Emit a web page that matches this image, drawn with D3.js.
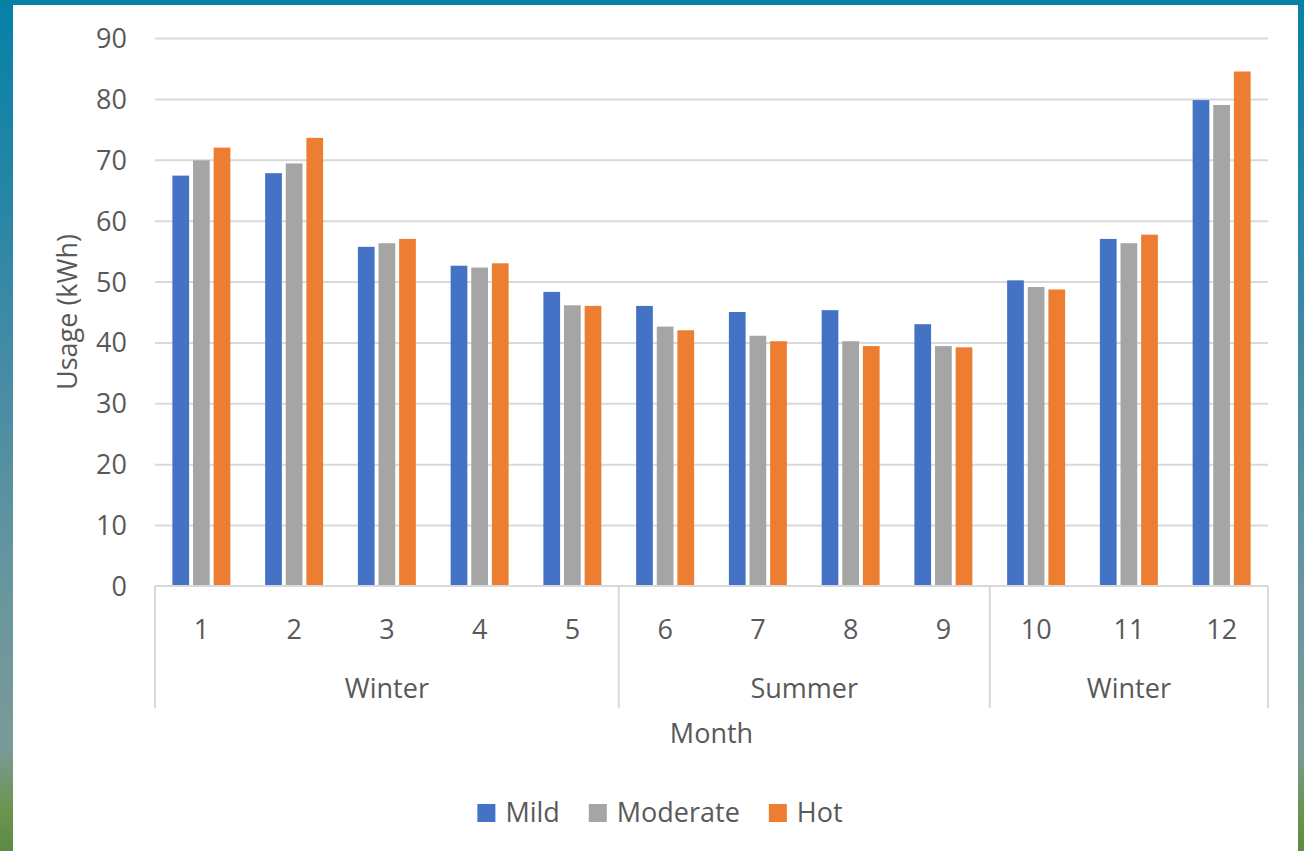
<!DOCTYPE html>
<html>
<head>
<meta charset="utf-8">
<script src="https://cdn.jsdelivr.net/npm/d3@7/dist/d3.min.js"></script>
<style>
  html, body { margin: 0; padding: 0; }
  body {
    width: 1304px; height: 851px; overflow: hidden;
    background: linear-gradient(180deg, #0581a7 0%, #2a86a6 25%, #4f8ea3 50%, #6a969e 70%, #7a9a98 88%, #6c9450 95%, #5d8a46 100%);
  }
  svg { display: block; font-family: "Open Sans", "Noto Sans", sans-serif; }
</style>
</head>
<body>
<svg id="chart" width="1304" height="851"></svg>
<script>
// Monthly usage by climate zone
const months = ["1", "2", "3", "4", "5", "6", "7", "8", "9", "10", "11", "12"];
const seasonLabels = ["Winter", "Summer", "Winter"];
const seasonSpans = [5, 4, 3];
const seriesNames = ["Mild", "Moderate", "Hot"];
const mild     = [67.4, 67.8, 55.7, 52.6, 48.3, 46.0, 45.0, 45.3, 43.0, 50.2, 57.0, 79.8];
const moderate = [69.9, 69.4, 56.3, 52.3, 46.1, 42.6, 41.1, 40.2, 39.4, 49.1, 56.3, 79.0];
const hot      = [72.0, 73.6, 57.0, 53.0, 46.0, 42.0, 40.2, 39.4, 39.2, 48.7, 57.7, 84.5];
const yTicks = [0, 10, 20, 30, 40, 50, 60, 70, 80, 90];
const colors = ["#4472c4", "#a5a5a5", "#ed7d31"];

const seriesValues = [mild, moderate, hot];
const textColor = "#595959";
const lineColor = "#d9d9d9";
const fontSize = 27;

const svg = d3.select("#chart");

// white chart panel
svg.append("rect").attr("x", 13).attr("y", 5).attr("width", 1285).attr("height", 846).attr("fill", "#ffffff");

const plot = { left: 155, right: 1268, top: 38, bottom: 586 };

const y = d3.scaleLinear().domain([0, 90]).range([plot.bottom, plot.top]);
const x0 = d3.scaleBand().domain(months).range([plot.left, plot.right])
  .paddingInner(0.375).paddingOuter(0.1875);
const x1 = d3.scaleBand().domain(seriesNames).range([0, x0.bandwidth()])
  .paddingInner(0.19).paddingOuter(0);

// gridlines and value labels
const yAxis = d3.axisLeft(y).tickValues(yTicks).tickSize(-(plot.right - plot.left)).tickPadding(28);
const gy = svg.append("g").attr("transform", `translate(${plot.left},0)`).call(yAxis);
gy.select(".domain").remove();
gy.selectAll(".tick line").attr("stroke", lineColor).attr("stroke-width", 2)
  .filter(d => d === 0).remove();
gy.selectAll(".tick text").attr("fill", textColor).attr("font-size", fontSize)
  .attr("font-family", "'Open Sans', sans-serif").attr("dy", "0.35em");

// bars
const groups = svg.append("g").selectAll("g").data(months).join("g")
  .attr("transform", d => `translate(${x0(d)},0)`);
groups.selectAll("rect")
  .data((m, i) => seriesNames.map((s, k) => ({ s, k, v: seriesValues[k][i] })))
  .join("rect")
  .attr("x", d => x1(d.s))
  .attr("width", x1.bandwidth())
  .attr("y", d => y(d.v))
  .attr("height", d => y(0) - y(d.v))
  .attr("fill", d => colors[d.k]);

// category axis baseline and season separators
svg.append("line").attr("x1", plot.left).attr("x2", plot.right)
  .attr("y1", plot.bottom).attr("y2", plot.bottom)
  .attr("stroke", lineColor).attr("stroke-width", 2);

const step = x0.step();
let bounds = [0];
seasonSpans.forEach(n => bounds.push(bounds[bounds.length - 1] + n));
svg.append("g").selectAll("line").data(bounds).join("line")
  .attr("x1", d => plot.left + d * step).attr("x2", d => plot.left + d * step)
  .attr("y1", plot.bottom).attr("y2", 708)
  .attr("stroke", lineColor).attr("stroke-width", 2);

// month labels
const xAxis = d3.axisBottom(x0).tickSize(0).tickPadding(0);
const gx = svg.append("g").attr("transform", `translate(0,${plot.bottom})`).call(xAxis);
gx.select(".domain").remove();
gx.selectAll(".tick text").attr("fill", textColor).attr("font-size", fontSize)
  .attr("font-family", "'Open Sans', sans-serif")
  .attr("y", 44).attr("dy", "0.35em");

// season labels
svg.append("g").selectAll("text").data(seasonLabels).join("text")
  .attr("x", (d, i) => plot.left + (bounds[i] + bounds[i + 1]) / 2 * step)
  .attr("y", 689).attr("dy", "0.35em")
  .attr("text-anchor", "middle").attr("fill", textColor).attr("font-size", fontSize)
  .text(d => d);

// axis titles
svg.append("text").attr("x", (plot.left + plot.right) / 2).attr("y", 734).attr("dy", "0.35em")
  .attr("text-anchor", "middle").attr("fill", textColor).attr("font-size", fontSize).text("Month");
svg.append("text").attr("transform", `translate(68,${(plot.top + plot.bottom) / 2}) rotate(-90)`)
  .attr("dy", "0.35em").attr("text-anchor", "middle").attr("fill", textColor)
  .attr("font-size", fontSize).text("Usage (kWh)");

// legend
const legend = svg.append("g");
const sw = 18, swGap = 10, itemGap = 29;
let cursor = 0;
const items = seriesNames.map((name, k) => {
  const g = legend.append("g");
  g.append("rect").attr("width", sw).attr("height", sw).attr("y", -sw / 2).attr("fill", colors[k]);
  const t = g.append("text").attr("x", sw + swGap).attr("dy", "0.35em")
    .attr("fill", textColor).attr("font-size", fontSize).text(name);
  const w = sw + swGap + t.node().getComputedTextLength();
  g.attr("transform", `translate(${cursor},0)`);
  cursor += w + itemGap;
  return w;
});
const legendWidth = cursor - itemGap;
legend.attr("transform", `translate(${660 - legendWidth / 2},813)`);
</script>
</body>
</html>
